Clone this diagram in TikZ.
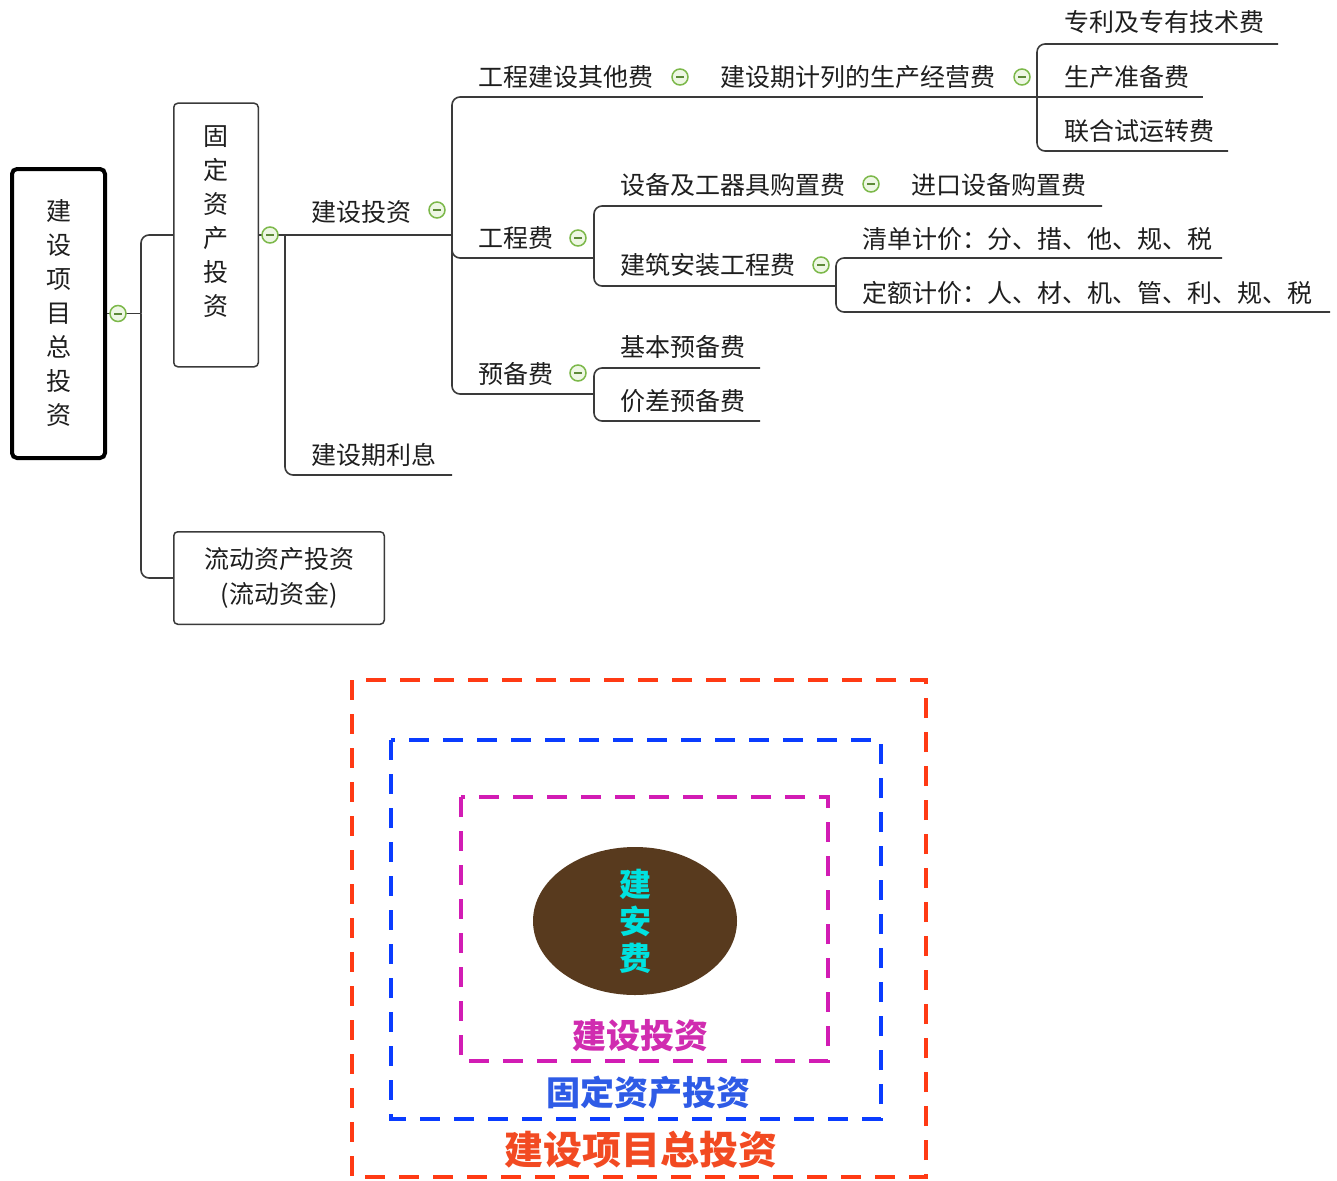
\documentclass[tikz,border=0pt]{standalone}
\usepackage{fontspec}
\setmainfont{Noto Sans CJK SC}
\usetikzlibrary{shapes.geometric}
\definecolor{linegray}{HTML}{3A3A3A}
\definecolor{textgray}{HTML}{1E1E1E}
\definecolor{foldgreen}{HTML}{7CB84A}
\definecolor{foldfill}{HTML}{EEF7E4}
\definecolor{boxred}{HTML}{FF3A14}
\definecolor{boxblue}{HTML}{0A3CFF}
\definecolor{boxmag}{HTML}{D21CB4}
\definecolor{lblred}{HTML}{F24A22}
\definecolor{lblblue}{HTML}{2E5BE6}
\definecolor{lblmag}{HTML}{D02CB0}
\definecolor{jabrown}{HTML}{583A1E}
\definecolor{jacyan}{HTML}{00E2E0}
\tikzset{
  conn/.style={draw=linegray, line width=1.6pt, rounded corners=8pt},
  topic/.style={anchor=west, inner sep=0pt, text=textgray, font=\fontsize{25}{30}\selectfont},
  box/.style={draw=linegray, line width=1.5pt, rounded corners=4pt, inner sep=0pt, align=center, text=textgray},
  vtext/.style={align=center, inner sep=0pt, text=textgray, font=\fontsize{25}{34}\selectfont},
  fold/.style={circle, draw=foldgreen, fill=foldfill, line width=1.5pt, minimum size=16pt, inner sep=0pt,
    path picture={\draw[foldgreen!75!black, line width=2pt] ([xshift=4pt]path picture bounding box.west) -- ([xshift=-4pt]path picture bounding box.east);}},
  dashbox/.style={line width=4pt, dash pattern=on 20pt off 14pt},
  biglbl/.style={inner sep=0pt, font=\bfseries\fontsize{34}{40}\selectfont},
}
\begin{document}
\begin{tikzpicture}[x=1pt,y=-1pt]
\useasboundingbox (0,0) rectangle (1337,1180);
% boxes
\node[box, draw=black, line width=4pt, rounded corners=5pt, minimum width=93pt, minimum height=289pt, font=\fontsize{25}{34}\selectfont] (root) at (58.5,313.5) {建\\设\\项\\目\\总\\投\\资};
\node[box, minimum width=84.5pt, minimum height=263.5pt] (gd) at (216,235) {};
\node[vtext, yshift=13pt] (gdt) at (gd.center) {固\\定\\资\\产\\投\\资};
\node[box, minimum width=210.5pt, minimum height=92.5pt, font=\fontsize{25}{35}\selectfont] (ld) at (279,578) {流动资产投资\\(流动资金)};
% connectors
\coordinate (b0) at (141,313.5);
\coordinate (b1) at (285,235);
\coordinate (b2) at (452,235);
\coordinate (b3) at (1037,97);
\coordinate (b4) at (594,258);
\coordinate (b5) at (836,286);
\coordinate (b6) at (594,394);
\coordinate (e_lx) at (452,475);
\coordinate (e_zl) at (1278,44);
\coordinate (e_sc) at (1203,97);
\coordinate (e_lh) at (1228,151);
\coordinate (e_jk) at (1102,206);
\coordinate (e_qd) at (1222,258);
\coordinate (e_de) at (1330,312);
\coordinate (e_jb) at (760,368);
\coordinate (e_jc) at (760,421);
\draw[conn] (root.east) -- (b0);
\draw[conn] (b0) |- (gd.west);
\draw[conn] (b0) |- (ld.west);
\draw[conn] (gd.east) -- (b1) -- (b2);
\draw[conn] (b1) |- (e_lx);
\draw[conn] (b2) |- (b3);
\draw[conn] (b3) |- (e_zl);
\draw[conn] (b3) -- (e_sc);
\draw[conn] (b3) |- (e_lh);
\draw[conn] (b2) |- (b4);
\draw[conn] (b4) |- (e_jk);
\draw[conn] (b4) |- (b5);
\draw[conn] (b5) |- (e_qd);
\draw[conn] (b5) |- (e_de);
\draw[conn] (b2) |- (b6);
\draw[conn] (b6) |- (e_jb);
\draw[conn] (b6) |- (e_jc);
% topics
\node[topic] (t_js) at (311,212) {建设投资};
\node[topic] (t_lx) at (311,455) {建设期利息};
\node[topic] (t_qt) at (478,77) {工程建设其他费};
\node[topic] (t_sj) at (720,77) {建设期计列的生产经营费};
\node[topic] (t_zl) at (1064,22) {专利及专有技术费};
\node[topic] (t_sc) at (1064,77) {生产准备费};
\node[topic] (t_lh) at (1064,131) {联合试运转费};
\node[topic] (t_gc) at (478,238) {工程费};
\node[topic] (t_sb) at (620,185) {设备及工器具购置费};
\node[topic] (t_jk) at (911,185) {进口设备购置费};
\node[topic] (t_jz) at (620,265) {建筑安装工程费};
\node[topic] (t_qd) at (862,239) {清单计价：分、措、他、规、税};
\node[topic] (t_de) at (862,293) {定额计价：人、材、机、管、利、规、税};
\node[topic] (t_yb) at (478,374) {预备费};
\node[topic] (t_jb) at (620,347) {基本预备费};
\node[topic] (t_jc) at (620,401) {价差预备费};
% fold marks
\node[fold] (f0) at (118,313.5) {};
\node[fold] (f1) at (270,235) {};
\node[fold] (f2) at (437,210) {};
\node[fold] (f3) at (680,77) {};
\node[fold] (f4) at (1022,77) {};
\node[fold] (f5) at (578,238) {};
\node[fold] (f6) at (871,184) {};
\node[fold] (f7) at (821,265) {};
\node[fold] (f8) at (578,373) {};
% nested boxes
\draw[dashbox, draw=boxred] (352,680) rectangle (926,1177);
\draw[dashbox, draw=boxblue] (391,740) rectangle (881,1119);
\draw[dashbox, draw=boxmag] (461,797) rectangle (828,1061);
\node[ellipse, fill=jabrown, minimum width=204pt, minimum height=148pt] (ja) at (635,921) {};
\node[align=center, inner sep=0pt, text=jacyan, font=\bfseries\fontsize{32}{37}\selectfont] (jat) at (ja.center) {建\\安\\费};
\node[biglbl, text=lblmag] (l_js) at (640,1036) {建设投资};
\node[biglbl, text=lblblue] (l_gd) at (648,1093) {固定资产投资};
\node[biglbl, text=lblred, font=\bfseries\fontsize{39}{44}\selectfont] (l_zt) at (641,1150) {建设项目总投资};
\end{tikzpicture}
\end{document}
